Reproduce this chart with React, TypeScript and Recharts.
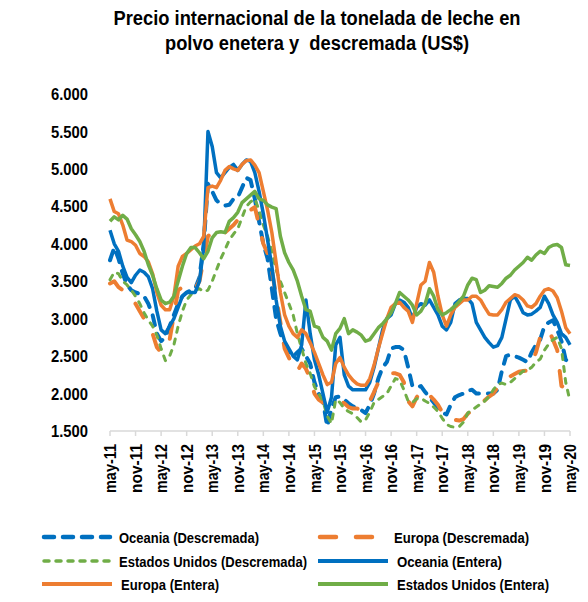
import { LineChart, Line, XAxis, YAxis } from 'recharts';

// meses may-11 .. may-20
const monthNames = ['ene', 'feb', 'mar', 'abr', 'may', 'jun', 'jul', 'ago', 'sep', 'oct', 'nov', 'dic'];
const months: string[] = [];
for (let i = 0; i < 109; i++) {
  const idx = 4 + i;
  months.push(`${monthNames[idx % 12]}-${11 + Math.floor(idx / 12)}`);
}

const yTicks = [1500, 2000, 2500, 3000, 3500, 4000, 4500, 5000, 5500, 6000];

const oceaniaDesc = [
  3780, 3950, 3800, 3600, 3450, 3380, 3350, 3330, 3300, 3200,
  3050, 2800, 2700, 2750, 2900, 3050, 3200, 3300, 3350, 3380,
  3400, 3550, 4000, 4800, 4700, 4580, 4530, 4510, 4520, 4600,
  4620, 4750, 4880, 4850, 4600, 4300, 4000, 3800, 3400, 3000,
  2800, 2650, 2550, 2500, 2550, 2600, 2500, 2400, 2150, 2000,
  1900, 1560, 1800, 1950, 1960, 1920, 1870, 1830, 1800, 1780,
  1740, 1850, 2000, 2200, 2350, 2420, 2600, 2620, 2620, 2580,
  2350, 2100, 2080, 2100, 2020, 1950, 1880, 1820, 1750, 1720,
  1850, 1950, 1980, 2000, 2040, 2050, 2000, 2000, 2000, 2000,
  2000, 2050, 2300, 2500, 2520, 2500, 2480, 2450, 2420, 2550,
  2650, 2720, 2900, 2950, 2980, 2850, 2700, 2450, 2420,
];

const europaDesc = [
  3470, 3500, 3420, 3380, 3300, 3250, 3200, 3100, 3000, 2920,
  2800, 2620, 2550, 2600, 2720, 3050, 3380, 3420, 3450, 3420,
  3400, 3500, 3800, 4100, 4150, 4100, 4120, 4150, 4200, 4250,
  4320, 4400, 4400, 4450, 4490, 4250, 4000, 3870, 3650, 3300,
  2950, 2600, 2480, 2320, 2300, 2400, 2330, 2200, 2000, 1920,
  1880, 1870, 1860, 1880, 1900, 1870, 1820, 1800, 1800, 1780,
  1790, 1900, 2020, 2150, 2200, 2220, 2270, 2270, 2250, 2150,
  1900, 1830, 1950, 2020, 2050, 1980, 1920, 1850, 1750, 1680,
  1650, 1650, 1640, 1660, 1730, 1780, 1820, 1860, 1910, 1960,
  2000, 2080, 2120, 2180, 2230, 2260, 2290, 2300, 2310, 2400,
  2550, 2750, 2820, 2850, 2720, 2580, 2100, 2080, 2150,
];

const usDesc = [
  3520, 3620, 3600, 3500, 3450, 3380, 3300, 3200, 3080, 2980,
  2900, 2780, 2600, 2440, 2500, 2650, 2900, 3100, 3250, 3320,
  3380, 3400, 3360, 3380, 3500, 3650, 3800, 3920, 4050, 4130,
  4200, 4350, 4500, 4560, 4600, 4450, 4250, 4100, 3900, 3650,
  3500, 3350, 3200, 3050, 2800, 2600, 2400, 2270, 2090, 2000,
  1900, 1700, 1600, 1920, 1880, 1800, 1760, 1730, 1680, 1620,
  1650, 1750, 1880, 1920, 1960, 2000, 2100, 2200, 2180, 2050,
  1900, 1880, 1930, 1940, 1900, 1870, 1820, 1760, 1670, 1590,
  1560, 1550, 1560, 1620, 1740, 1780, 1820, 1860, 1900, 1960,
  2050, 2120, 2140, 2120, 2150, 2200, 2250, 2300, 2310, 2350,
  2420, 2460, 2580, 2660, 2720, 2750, 2600, 2150, 1900,
];

const oceaniaEntera = [
  4180, 4000, 3900, 3700, 3550, 3480, 3580, 3650, 3620, 3560,
  3400, 3100, 2850, 2800, 2900, 3000, 3150, 3300, 3350, 3350,
  3350, 3500, 3950, 5500, 5300, 4950, 4880, 4950, 5020, 5060,
  4980, 5060, 5120, 5100, 4950, 4700, 4400, 4050, 3700, 3250,
  2900, 2700, 2600, 2500, 2450, 2650, 3250, 2800, 2450, 2250,
  2000, 1750, 1950, 2650, 2750, 2250, 2100, 2050, 2050, 2050,
  2050, 2150, 2350, 2600, 2850, 3000, 3050, 3200, 3250, 3220,
  3150, 3000, 3150, 3200, 3180, 3250, 3150, 3050, 2900, 2850,
  2950, 3200, 3250, 3270, 3270, 3200, 2950, 2850, 2750, 2680,
  2620, 2640, 2750, 3000, 3250, 3300, 3200, 3080, 3050, 3060,
  3100, 3150, 3300, 3200, 3050, 2950, 2800, 2750, 2650,
];

const europaEntera = [
  4600, 4430, 4400, 4250, 4050, 4030, 3980, 3870, 3830, 3760,
  3600, 3350, 3180, 3120, 3120, 3300, 3700, 3830, 3870, 3920,
  3970, 4000, 4100, 4750, 4770, 4750, 4850, 4980, 5030, 5000,
  4980, 5060, 5110, 5120, 5050, 4950, 4700, 4450, 4150, 3750,
  3350, 3050, 2900, 2800, 2750, 2850, 2800, 2680, 2550, 2400,
  2250, 2120, 2150, 2400, 2480, 2350, 2250, 2180, 2130, 2110,
  2110, 2200, 2380, 2600, 2800, 3000, 3150, 3200, 3220, 3150,
  3100, 2950, 3200, 3450, 3500, 3750, 3620, 3300, 3050, 2900,
  3050, 3150, 3200, 3250, 3250, 3300, 3300, 3250, 3150, 3060,
  3050, 3050, 3120, 3220, 3270, 3320, 3300, 3250, 3170, 3150,
  3200, 3300, 3380, 3400, 3370, 3280, 3100, 2880, 2800,
];

const usEntera = [
  4300, 4360, 4320, 4380, 4330, 4200, 4120, 4030, 3900, 3720,
  3580, 3400, 3250, 3200, 3220, 3300, 3500, 3700, 3870, 3950,
  3950, 3880, 3800, 3900, 4080, 4150, 4160, 4150, 4300, 4350,
  4420, 4550, 4600, 4650, 4700, 4600, 4580, 4520, 4490, 4470,
  4100, 3880, 3750, 3650, 3500, 3300, 3120, 3100, 2900, 2880,
  2750, 2700, 2580, 2800, 2870, 3000, 2800, 2850, 2820, 2780,
  2700, 2720, 2800, 2880, 2930, 3000, 3080, 3200, 3350, 3300,
  3250, 3180, 3050, 3100, 3200, 3400, 3300, 3120, 3050, 3080,
  3120, 3170, 3230, 3300, 3450, 3540, 3520, 3350, 3380, 3440,
  3430, 3420, 3470, 3540, 3580, 3650, 3700, 3750, 3820, 3780,
  3850, 3900, 3870, 3950, 3980, 3990, 3950, 3720, 3710,
];

const data = months.map((mes, i) => ({
  mes,
  oceaniaDesc: oceaniaDesc[i],
  europaDesc: europaDesc[i],
  usDesc: usDesc[i],
  oceaniaEntera: oceaniaEntera[i],
  europaEntera: europaEntera[i],
  usEntera: usEntera[i],
}));

const BLUE = '#0070C0';
const ORANGE = '#ED7D31';
const GREEN = '#70AD47';
const FONT = '"Liberation Sans", Arial, sans-serif';

// legend: swatch x, text x, text width and row of each entry
const series = [
  { key: 'oceaniaDesc', name: 'Oceania (Descremada)', color: BLUE, width: 4, dash: '10 9', lx: 42, tx: 119, tw: 140, row: 0 },
  { key: 'europaDesc', name: 'Europa (Descremada)', color: ORANGE, width: 4, dash: '16 20', lx: 318, tx: 394, tw: 135, row: 0 },
  { key: 'usDesc', name: 'Estados Unidos (Descremada)', color: GREEN, width: 3, dash: '5 7', lx: 42, tx: 119, tw: 188, row: 1 },
  { key: 'oceaniaEntera', name: 'Oceania (Entera)', color: BLUE, width: 3.5, dash: undefined, lx: 318, tx: 397, tw: 105, row: 1 },
  { key: 'europaEntera', name: 'Europa (Entera)', color: ORANGE, width: 3.5, dash: undefined, lx: 42, tx: 121, tw: 98, row: 2 },
  { key: 'usEntera', name: 'Estados Unidos (Entera)', color: GREEN, width: 3.5, dash: undefined, lx: 318, tx: 397, tw: 152, row: 2 },
];
const legendRows = [537, 561, 584];

const fmt = (v: number) => `${Math.floor(v / 1000)}.${String(v % 1000).padStart(3, '0')}`;

const XTick = ({ x, y, payload }: any) => (
  <text
    x={x}
    y={y}
    transform={`rotate(-90 ${x} ${y})`}
    textAnchor="end"
    dy="0.36em"
    fontSize={17}
    fontWeight="bold"
    fontFamily={FONT}
    fill="#000"
    textLength={49}
    lengthAdjust="spacingAndGlyphs"
  >
    {payload.value}
  </text>
);

const YTick = ({ x, y, payload }: any) => (
  <text
    x={x}
    y={y}
    textAnchor="end"
    dy="0.36em"
    fontSize={17}
    fontWeight="bold"
    fontFamily={FONT}
    fill="#000"
    textLength={37}
    lengthAdjust="spacingAndGlyphs"
  >
    {fmt(payload.value)}
  </text>
);

export default function App() {
  return (
    <div style={{ position: 'absolute', left: 0, top: 0, width: 588, height: 602, background: '#fff', fontFamily: FONT }}>
      <svg width={588} height={60} style={{ position: 'absolute', left: 0, top: 0 }}>
        <text x={317} y={25} textAnchor="middle" fontSize={20} fontWeight="bold" fontFamily={FONT}
          textLength={407} lengthAdjust="spacingAndGlyphs">
          Precio internacional de la tonelada de leche en
        </text>
        <text x={317} y={49.5} textAnchor="middle" fontSize={20} fontWeight="bold" fontFamily={FONT}
          textLength={304} lengthAdjust="spacingAndGlyphs" style={{ whiteSpace: 'pre' }}>
          {'polvo enetera y  descremada (US$)'}
        </text>
      </svg>

      <div style={{ position: 'absolute', left: 0, top: 0 }}>
        <LineChart width={588} height={510} data={data} margin={{ top: 94, right: 18, left: 10, bottom: 0 }}>
          <XAxis
            dataKey="mes"
            interval={5}
            height={79}
            axisLine={{ stroke: '#D9D9D9', strokeWidth: 1.5 }}
            tickLine={{ stroke: '#D9D9D9', strokeWidth: 1.5 }}
            tickSize={5}
            tickMargin={8}
            tick={<XTick />}
          />
          <YAxis
            width={100}
            domain={[1500, 6000]}
            ticks={yTicks}
            axisLine={false}
            tickLine={false}
            tickSize={0}
            tickMargin={22}
            tick={<YTick />}
          />
          {series.map((s) => (
            <Line
              key={s.key}
              type="linear"
              dataKey={s.key}
              name={s.name}
              stroke={s.color}
              strokeWidth={s.width}
              strokeDasharray={s.dash}
              strokeLinecap={s.dash ? 'round' : 'butt'}
              strokeLinejoin="round"
              dot={false}
              isAnimationActive={false}
            />
          ))}
        </LineChart>
      </div>

      <svg width={588} height={602} style={{ position: 'absolute', left: 0, top: 0, pointerEvents: 'none' }}>
        {series.map((s) => {
          const cy = legendRows[s.row];
          return (
            <g key={s.key}>
              <line
                x1={s.dash ? s.lx + 2 : s.lx}
                y1={cy}
                x2={s.dash ? s.lx + 68 : s.lx + 70}
                y2={cy}
                stroke={s.color}
                strokeWidth={s.width + 0.5}
                strokeDasharray={s.dash}
                strokeLinecap={s.dash ? 'round' : 'butt'}
              />
              <text x={s.tx} y={cy} dy="0.36em" fontSize={15.5} fontWeight="bold" fontFamily={FONT} fill="#000"
                textLength={s.tw} lengthAdjust="spacingAndGlyphs">
                {s.name}
              </text>
            </g>
          );
        })}
      </svg>
    </div>
  );
}
